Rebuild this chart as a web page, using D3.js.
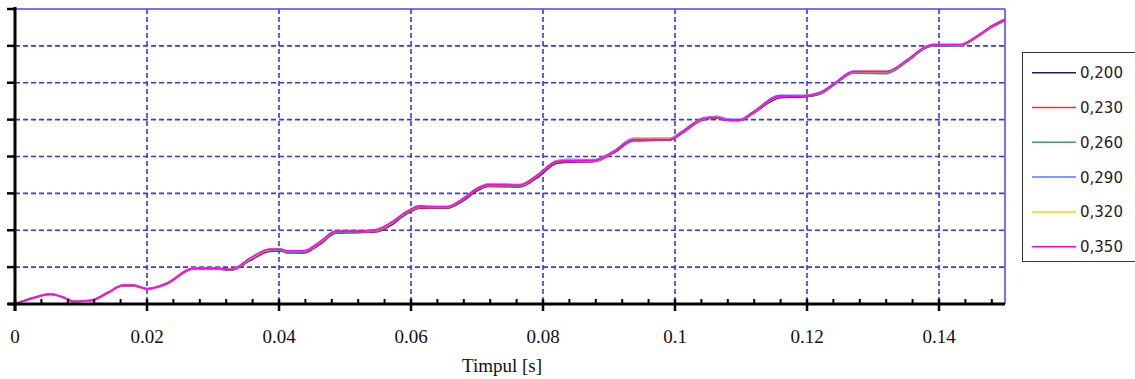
<!DOCTYPE html>
<html><head><meta charset="utf-8">
<script src="https://cdn.jsdelivr.net/npm/d3@7/dist/d3.min.js"></script>
<style>html,body{margin:0;padding:0;background:#fff;}svg{display:block;}</style>
</head><body>
<svg id="chart" width="1135" height="379"></svg>
<script>
// time axis (s)
const time = [0,0.0025,0.0053,0.0075,0.0088,0.0114,0.014,0.0164,0.0179,0.02,0.023,0.027,0.0306,0.0328,0.0356,0.0386,0.0402,0.0412,0.0437,0.0462,0.0487,0.0528,0.0548,0.0568,0.0593,0.0614,0.0629,0.0654,0.0679,0.0700,0.0717,0.0765,0.079,0.082,0.0836,0.0876,0.0907,0.0937,0.0992,0.1008,0.1043,0.1063,0.1078,0.1098,0.1119,0.1159,0.1194,0.122,0.1245,0.127,0.1321,0.1351,0.1379,0.1391,0.1432,0.1452,0.1482,0.15];
const seriesNames = ["0,200","0,230","0,260","0,290","0,320","0,350"];
const v200 = [0,0.15,0.27,0.17,0.07,0.09,0.3,0.5,0.5,0.41,0.55,0.95,0.95,0.92,1.18,1.43,1.44,1.4,1.38,1.62,1.93,1.94,1.96,2.12,2.44,2.6,2.6,2.6,2.8,3.07,3.19,3.18,3.41,3.81,3.85,3.86,4.1,4.43,4.45,4.6,5.0,5.04,4.99,4.98,5.18,5.6,5.62,5.7,6.0,6.27,6.27,6.57,6.94,7.0,7.02,7.18,7.53,7.7];
const v230 = [0,0.15,0.27,0.17,0.07,0.09,0.3,0.5,0.5,0.41,0.55,0.95,0.95,0.93,1.2,1.44,1.45,1.39,1.39,1.64,1.94,1.95,1.97,2.14,2.46,2.61,2.61,2.61,2.82,3.09,3.2,3.19,3.43,3.83,3.86,3.87,4.11,4.44,4.45,4.61,5.01,5.05,4.99,4.98,5.19,5.62,5.63,5.71,6.01,6.28,6.28,6.58,6.95,7.02,7.02,7.19,7.54,7.71];
const v260 = [0,0.15,0.27,0.17,0.07,0.09,0.3,0.51,0.51,0.41,0.56,0.96,0.96,0.93,1.21,1.46,1.46,1.41,1.41,1.66,1.95,1.96,1.99,2.16,2.47,2.63,2.62,2.62,2.84,3.11,3.22,3.2,3.45,3.85,3.88,3.88,4.12,4.46,4.46,4.62,5.03,5.06,5.0,4.99,5.2,5.63,5.63,5.7,6.0,6.26,6.25,6.57,6.95,7.0,7.0,7.17,7.55,7.72];
const v290 = [0,0.15,0.27,0.17,0.07,0.09,0.3,0.51,0.51,0.41,0.56,0.96,0.97,0.94,1.22,1.47,1.48,1.43,1.42,1.67,1.97,1.97,2.0,2.17,2.49,2.65,2.64,2.63,2.85,3.13,3.26,3.24,3.48,3.88,3.92,3.91,4.15,4.49,4.49,4.65,5.05,5.09,5.02,5.0,5.22,5.66,5.66,5.74,6.03,6.3,6.3,6.6,6.97,7.03,7.03,7.2,7.56,7.73];
const v320 = [0,0.15,0.27,0.17,0.07,0.09,0.3,0.51,0.51,0.41,0.56,0.97,0.97,0.94,1.23,1.48,1.49,1.44,1.44,1.68,1.98,1.98,2.02,2.18,2.5,2.66,2.65,2.64,2.86,3.13,3.25,3.22,3.47,3.87,3.9,3.89,4.13,4.47,4.47,4.63,5.03,5.07,5.0,4.99,5.21,5.64,5.65,5.73,6.03,6.31,6.3,6.61,6.97,7.04,7.03,7.2,7.56,7.72];
const v350 = [0,0.15,0.27,0.17,0.07,0.09,0.3,0.51,0.51,0.41,0.56,0.97,0.97,0.94,1.24,1.49,1.49,1.44,1.44,1.69,1.98,1.98,2.02,2.19,2.5,2.66,2.64,2.64,2.86,3.13,3.24,3.22,3.47,3.86,3.89,3.89,4.13,4.46,4.46,4.63,5.03,5.06,4.99,4.99,5.21,5.64,5.64,5.73,6.03,6.31,6.31,6.61,6.97,7.03,7.03,7.2,7.56,7.72];
const seriesValues = [v200, v230, v260, v290, v320, v350];
const seriesColors = ["#1a1a6e","#ff2a2a","#3c9a6c","#4d7cff","#ffcc00","#ff00ff"];
const xTicks = [0,0.02,0.04,0.06,0.08,0.1,0.12,0.14];
const xTickLabels = ["0","0.02","0.04","0.06","0.08","0.1","0.12","0.14"];
const xMinorStep = 0.004;
const yTicks = [0,1,2,3,4,5,6,7,8];
const xTitle = "Timpul [s]";

const svg = d3.select("#chart");
const L = 15, R = 1005, T = 9, B = 304;
const x = d3.scaleLinear().domain([0, 0.15]).range([L, R]);
const y = d3.scaleLinear().domain([0, 8]).range([B, T]);
const gridColor = "#3434ff";

// grid
const g = svg.append("g");
g.selectAll(".vg").data(xTicks.slice(1)).join("line")
  .attr("x1", d => x(d)).attr("x2", d => x(d)).attr("y1", T).attr("y2", B)
  .attr("stroke", gridColor).attr("stroke-width", 1.6).attr("stroke-dasharray", "5,3");
g.selectAll(".hg").data(yTicks.slice(1, -1)).join("line")
  .attr("x1", L).attr("x2", R).attr("y1", d => y(d)).attr("y2", d => y(d))
  .attr("stroke", gridColor).attr("stroke-width", 1.6).attr("stroke-dasharray", "5,3");
// top and right border
svg.append("line").attr("x1", L).attr("x2", R).attr("y1", T).attr("y2", T)
  .attr("stroke", "#4444ff").attr("stroke-width", 1.5);
svg.append("line").attr("x1", R).attr("x2", R).attr("y1", T).attr("y2", B)
  .attr("stroke", "#4444ff").attr("stroke-width", 1.5);

// curves
const line = d3.line().x((d, i) => x(time[i])).y(d => y(d)).curve(d3.curveMonotoneX);
seriesValues.forEach((vals, k) => {
  svg.append("path").attr("d", line(vals)).attr("fill", "none")
    .attr("stroke", seriesColors[k]).attr("stroke-width", 1.8);
});

// x axis
const minor = d3.range(0, 0.1500001, xMinorStep).filter(v => !xTicks.some(t => Math.abs(t - v) < 1e-9));
svg.selectAll(".mt").data(minor).join("line")
  .attr("x1", d => x(d)).attr("x2", d => x(d)).attr("y1", B - 5).attr("y2", B)
  .attr("stroke", "#000").attr("stroke-width", 2);
svg.selectAll(".Mt").data(xTicks).join("line")
  .attr("x1", d => x(d)).attr("x2", d => x(d)).attr("y1", B - 5).attr("y2", B + 7)
  .attr("stroke", "#000").attr("stroke-width", 2.5);
svg.append("line").attr("x1", 8).attr("x2", R).attr("y1", B).attr("y2", B)
  .attr("stroke", "#000").attr("stroke-width", 3);
svg.selectAll(".xl").data(xTicks).join("text")
  .attr("x", d => x(d)).attr("y", 343).attr("text-anchor", "middle")
  .attr("font-family", "Liberation Serif, serif").attr("font-size", 19).attr("fill", "#111")
  .text((d, i) => xTickLabels[i]);
svg.append("text").attr("x", (L + R) / 2 - 8).attr("y", 372).attr("text-anchor", "middle")
  .attr("font-family", "Liberation Serif, serif").attr("font-size", 19).attr("fill", "#111")
  .text(xTitle);

// y axis
svg.selectAll(".yt").data(yTicks).join("line")
  .attr("x1", 7).attr("x2", L).attr("y1", d => y(d)).attr("y2", d => y(d))
  .attr("stroke", "#000").attr("stroke-width", 2.5);
svg.append("line").attr("x1", L).attr("x2", L).attr("y1", 7).attr("y2", 311)
  .attr("stroke", "#000").attr("stroke-width", 3);

// legend
const lg = svg.append("g");
lg.append("rect").attr("x", 1022.5).attr("y", 52.5).attr("width", 130).attr("height", 209)
  .attr("fill", "#fff").attr("stroke", "#333").attr("stroke-width", 1);
seriesNames.forEach((name, i) => {
  const yy = 72.7 + i * 34.8;
  lg.append("line").attr("x1", 1032).attr("x2", 1076).attr("y1", yy).attr("y2", yy)
    .attr("stroke", seriesColors[i]).attr("stroke-width", 1.5);
  lg.append("text").attr("x", 1080).attr("y", yy + 5.5)
    .attr("font-family", "DejaVu Sans, sans-serif").attr("font-size", 15).attr("fill", "#222")
    .text(name);
});
</script>
</body></html>
